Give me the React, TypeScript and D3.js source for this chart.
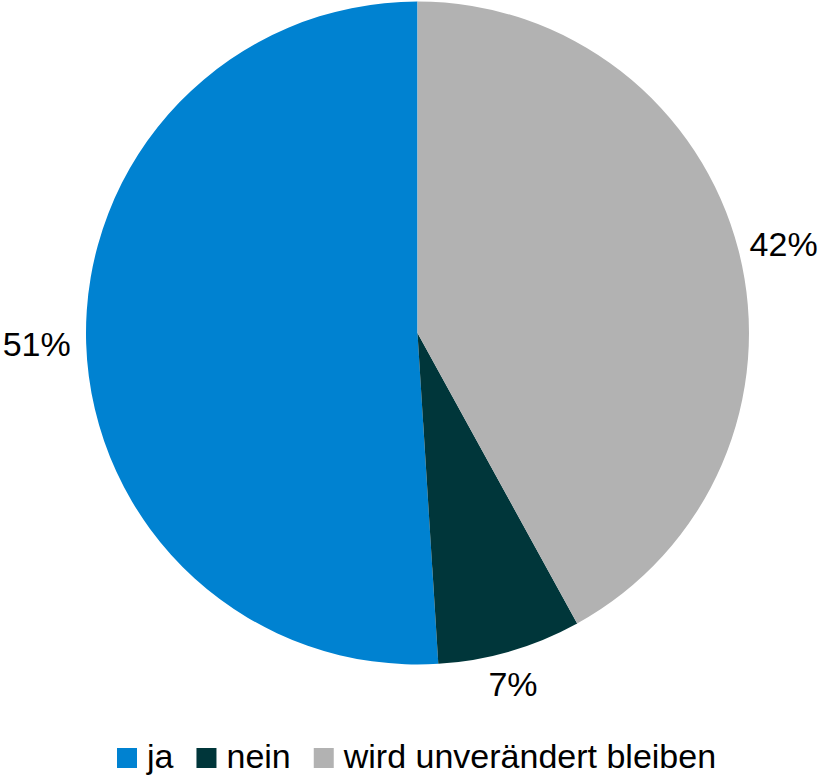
import React, { useEffect, useRef } from "react";
import * as d3 from "d3";

const categories = ["ja", "nein", "wird unverändert bleiben"];
const values = [51, 7, 42];
const labels = ["51%", "7%", "42%"];
const colors = ["#0082D1", "#00363A", "#B2B2B2"];
const labelNudge: [number, number][] = [[-3, -1], [-10, -12], [0, 5]];

const W = 822;
const H = 776;
const cx = 417.5;
const cy = 333;
const R = 331.5;
const FONT = "'Liberation Sans', Arial, Helvetica, sans-serif";
const FS = 34;

export default function App() {
  const ref = useRef<SVGSVGElement>(null);
  useEffect(() => {
    const svg = d3.select(ref.current);
    svg.selectAll("*").remove();
    const pie = d3.pie<number>().sort(null).startAngle(2 * Math.PI).endAngle(0);
    const arcs = pie(values);
    const arc = d3.arc<d3.PieArcDatum<number>>().innerRadius(0).outerRadius(R);
    const labelArc = d3.arc<d3.PieArcDatum<number>>().innerRadius(378).outerRadius(378);
    const g = svg.append("g").attr("transform", `translate(${cx},${cy})`);
    g.selectAll("path")
      .data(arcs)
      .join("path")
      .attr("d", arc)
      .attr("fill", (_, i) => colors[i]);
    g.selectAll("text")
      .data(arcs)
      .join("text")
      .attr("x", (d, i) => labelArc.centroid(d)[0] + labelNudge[i][0])
      .attr("y", (d, i) => labelArc.centroid(d)[1] + labelNudge[i][1])
      .attr("text-anchor", "middle")
      .attr("dominant-baseline", "central")
      .attr("font-family", FONT)
      .attr("font-size", FS)
      .attr("fill", "#000")
      .text((_, i) => labels[i]);

    const lg = svg.append("g").attr("transform", `translate(117,748)`);
    let x = 0;
    categories.forEach((c, i) => {
      lg.append("rect").attr("x", x).attr("y", 0).attr("width", 20).attr("height", 20).attr("fill", colors[i]);
      const t = lg
        .append("text")
        .attr("x", x + 30)
        .attr("y", 20)
        .attr("font-family", FONT)
        .attr("font-size", FS)
        .attr("fill", "#000")
        .text(c);
      const w = (t.node() as SVGTextElement).getComputedTextLength();
      x += 30 + w + 23;
    });
  }, []);
  return (
    <svg
      ref={ref}
      width={W}
      height={H}
      style={{ position: "absolute", left: 0, top: 0, background: "#fff" }}
    />
  );
}
